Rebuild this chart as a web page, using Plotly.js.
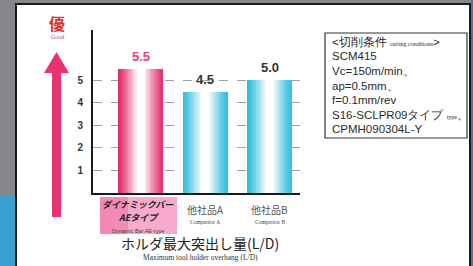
<!DOCTYPE html>
<html><head><meta charset="utf-8">
<script src="https://cdn.plot.ly/plotly-3.0.1.min.js"></script>
<style>html,body{margin:0;padding:0;}#chart{width:473px;height:266px;}</style>
</head><body><div id="chart"></div>
<script>
// ---- data ----
const categories = ['AE', 'A', 'B'];
const values = [5.5, 4.5, 5.0];
const valueLabels = ['5.5', '4.5', '5.0'];
const catLabelsJa = [['ダイナミックバー', 'AEタイプ'], ['他社品A'], ['他社品B']];
const catLabelsEn = ['Dynamic Bar AE-type', 'Competitor A', 'Competitor B'];
const yTicks = [1, 2, 3, 4, 5];
const conditionLines = [
  '&lt;切削条件 <span style="font-family:Liberation Serif;font-size:6px">cutting conditions</span>&gt;',
  'SCM415',
  'Vc=150m/min、',
  'ap=0.5mm、',
  'f=0.1mm/rev',
  'S16-SCLPR09タイプ <span style="font-family:Liberation Serif;font-size:6px">type</span>、',
  'CPMH090304L-Y'
];
const axisTitleJa = 'ホルダ最大突出し量(L/D)';
const axisTitleEn = 'Maximum tool holder overhang (L/D)';
const goodJa = '優';
const goodEn = 'Good';

// ---- geometry helpers (px -> paper) ----
const L = 93, R = 300, T = 30, B = 193, W = 473, H = 266;
const px = x => (x - L) / (R - L);
const py = y => (B - y) / (B - T);

const edgeColors = ['#e2306f', '#34bfdb', '#34bfdb'];
function mix(hex, t) {
  const n = parseInt(hex.slice(1), 16);
  const r = (n >> 16) & 255, g = (n >> 8) & 255, b = n & 255;
  const m = c => Math.round(c + (255 - c) * t);
  return `rgb(${m(r)},${m(g)},${m(b)})`;
}
const barW = 0.7;
const NL = 12;
const traces = [];
for (let k = 0; k < NL; k++) {
  const f = 1 - k / NL * 0.9;
  const t = Math.pow(k / (NL - 1), 1.2);
  traces.push({
    type: 'bar', x: categories, y: values,
    width: categories.map(() => barW * f),
    marker: { color: edgeColors.map(c => mix(c, t)), line: { width: 0 } },
    hoverinfo: 'skip', showlegend: false
  });
}

const font = 'Liberation Sans, Arial, sans-serif';
const jfont = 'Noto Sans CJK JP, sans-serif';
const serif = 'Liberation Serif, serif';
const annotations = [];
function note(o) {
  annotations.push(Object.assign({ showarrow: false, xanchor: 'center', yanchor: 'middle' }, o));
}
// value labels
values.forEach((v, i) => note({
  x: categories[i], y: v, xref: 'x', yref: 'y', text: '<b>' + valueLabels[i] + '</b>',
  yanchor: 'bottom', yshift: 3,
  font: { family: font, size: 13, color: i === 0 ? '#e8437c' : '#333' }
}));
// category labels
categories.forEach((c, i) => {
  const xx = i === 0 ? px(138) : c, xr = i === 0 ? 'paper' : 'x';
  catLabelsJa[i].forEach((line, j) => note({
    x: xx, xref: xr,
    y: py(i === 0 ? 204 + j * 13.5 : 209.5), yref: 'paper',
    text: i === 0 ? '<b><i>' + line + '</i></b>' : line,
    font: { family: jfont, size: i === 0 ? 9 : 10, color: i === 0 ? '#222' : '#555' }
  }));
  note({
    x: xx, xref: xr,
    y: py(i === 0 ? 231 : 221.5), yref: 'paper', text: catLabelsEn[i],
    font: { family: i === 0 ? font : serif, size: 5.5, color: '#444' }
  });
});
// axis title
note({ x: px(200), y: py(243), xref: 'paper', yref: 'paper', text: axisTitleJa,
  font: { family: jfont, size: 14, color: '#222' } });
note({ x: px(200), y: py(257), xref: 'paper', yref: 'paper', text: axisTitleEn,
  font: { family: serif, size: 7.5, color: '#333' } });
// good
note({ x: px(57), y: py(23), xref: 'paper', yref: 'paper', text: '<b>' + goodJa + '</b>',
  font: { family: jfont, size: 16, color: '#e0302a' } });
note({ x: px(57), y: py(36.5), xref: 'paper', yref: 'paper', text: goodEn,
  font: { family: serif, size: 6, color: '#c84040' } });
// conditions
conditionLines.forEach((s, i) => note({
  x: px(330), y: py(42 + i * 14.5), xref: 'paper', yref: 'paper', text: s,
  xanchor: 'left', align: 'left',
  font: { family: font, size: 11.5, color: '#2a2a2a' }
}));

const shapes = [
  // white panel
  { type: 'rect', xref: 'paper', yref: 'paper', x0: px(16), x1: px(470), y0: py(4), y1: py(270),
    fillcolor: '#ffffff', line: { color: '#1b1b1b', width: 2 }, layer: 'below' },
  // left blue region
  { type: 'rect', xref: 'paper', yref: 'paper', x0: px(-2), x1: px(15), y0: py(195), y1: py(270),
    fillcolor: '#3b9fd2', line: { width: 0 }, layer: 'below' },
  { type: 'rect', xref: 'paper', yref: 'paper', x0: px(471), x1: px(475), y0: py(0), y1: py(270),
    fillcolor: '#2f7fb8', line: { width: 0 }, layer: 'below' },
  // category box
  { type: 'rect', xref: 'paper', yref: 'paper', x0: px(100), x1: px(177), y0: py(197), y1: py(234),
    fillcolor: '#f7aacb', line: { width: 0 }, layer: 'below' },
  { type: 'rect', xref: 'paper', yref: 'paper', x0: px(100), x1: px(128), y0: py(197), y1: py(234),
    fillcolor: '#f28ab5', line: { width: 0 }, layer: 'below' },
  // arrow
  { type: 'rect', xref: 'paper', yref: 'paper', x0: px(52), x1: px(61), y0: py(70), y1: py(217),
    fillcolor: '#e8336f', line: { width: 0 } },
  { type: 'path', xref: 'paper', yref: 'paper',
    path: `M ${px(44)} ${py(73)} L ${px(56.5)} ${py(52)} L ${px(69)} ${py(73)} Z`,
    fillcolor: '#e8336f', line: { width: 0 } },
  // conditions box
  { type: 'rect', xref: 'paper', yref: 'paper', x0: px(325), x1: px(467), y0: py(33), y1: py(138),
    fillcolor: 'rgba(0,0,0,0)', line: { color: '#333', width: 1.2 } }
];

const layout = {
  width: W, height: H,
  margin: { l: L, r: W - R, t: T, b: H - B, autoexpand: false },
  paper_bgcolor: '#85878d', plot_bgcolor: 'rgba(0,0,0,0)',
  barmode: 'overlay', bargap: 0, showlegend: false,
  xaxis: { type: 'category', range: [-0.74, 2.47], showline: true, linecolor: '#1a1a1a', linewidth: 2,
    showticklabels: false, ticks: '', showgrid: false, zeroline: false, fixedrange: true },
  yaxis: { range: [0, 7.24], tickvals: yTicks, showline: true, linecolor: '#1a1a1a', linewidth: 2,
    ticks: '', ticklabelstandoff: 6, showgrid: true, gridcolor: '#777', griddash: 'dash', gridwidth: 0.7,
    zeroline: false, tickfont: { family: font, size: 10, color: '#333', weight: 'bold' } },
  shapes, annotations
};
Plotly.newPlot('chart', traces, layout, { staticPlot: true });
</script></body></html>
